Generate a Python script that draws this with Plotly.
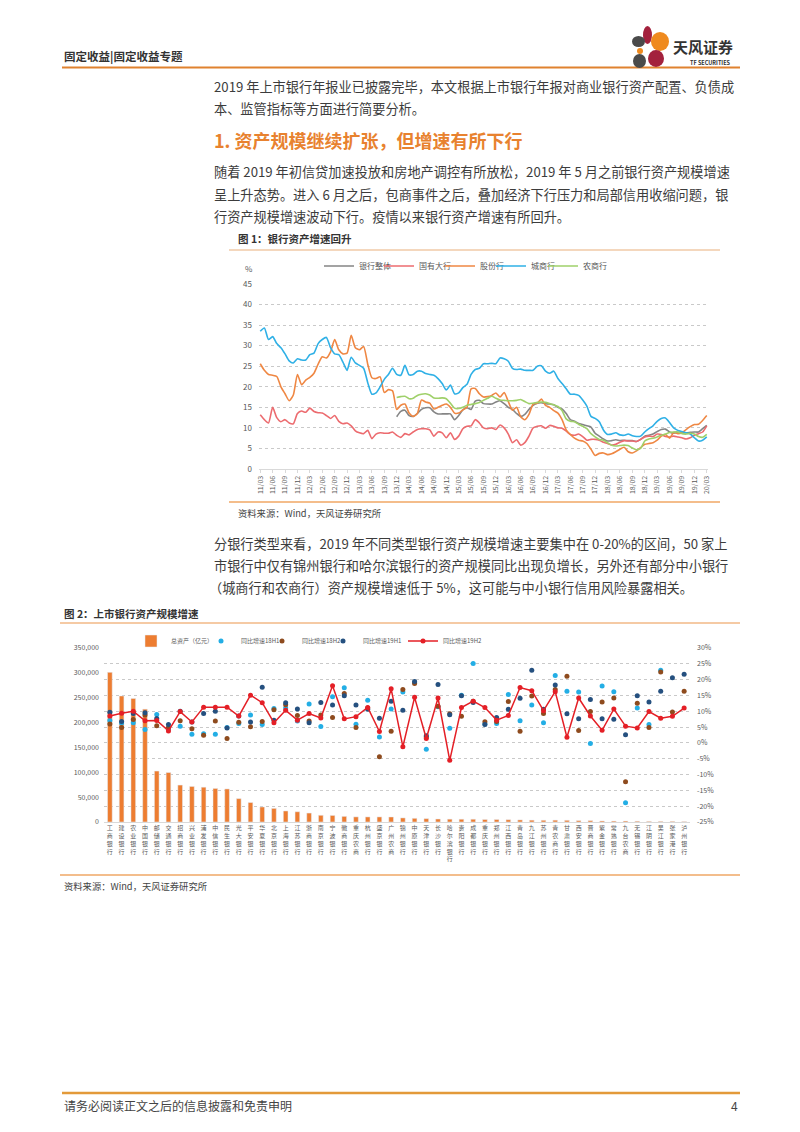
import plotly.graph_objects as go

W, H = 800, 1132
def X(p): return p / W
def Y(p): return 1 - p / H

FONT = "Noto Sans CJK SC"
TXT = "#3c3c3c"
TICK = "#595959"

# ---------------- Chart 1 data (%, monthly 2011/03 - 2020/03) ----------------
months = [f"{y:02d}/{m:02d}" for y in range(11, 21) for m in range(1, 13)]
months = months[months.index("11/03"): months.index("20/03") + 1]
month_ticks = months[::3]

pad33 = [None] * 33
bank_total = pad33 + [
    12.7, 14.0, 14.3, 13.0, 12.8, 13.5, 14.5, 14.9, 14.9, 13.9,
    13.4, 13.4, 13.4, 13.4, 12.0, 13.0, 14.4, 14.9, 14.5, 16.5,
    16.7, 15.9, 15.8, 15.8, 16.3, 16.6, 15.9, 15.0, 14.5, 13.5,
    12.8, 13.3, 14.5, 15.5, 16.0, 16.1, 15.9, 15.8, 15.6, 15.0,
    14.6, 13.5, 12.0, 11.6, 11.1, 10.8, 10.5, 10.2, 8.7, 8.0,
    7.3, 6.8, 6.9, 7.1, 6.9, 7.0, 6.9, 6.9, 6.7, 7.2,
    8.0, 8.2, 8.5, 9.1, 9.6, 9.7, 9.0, 8.7, 8.9, 8.9,
    8.8, 8.9, 9.0, 9.0, 9.8, 10.6]
state_big = [
    13.2, 12.0, 11.2, 15.0, 12.5, 11.5, 12.0, 11.2, 11.0, 13.5,
    14.1, 13.8, 14.8, 14.0, 13.7, 13.6, 13.0, 12.3, 13.0, 11.6,
    11.0, 11.2, 10.5, 9.3, 8.8, 8.6, 9.4, 7.4, 8.5, 8.8,
    8.7, 8.7, 9.0, 8.2, 7.7, 8.6, 8.3, 9.0, 9.6, 9.8,
    9.8, 9.5, 8.0, 9.0, 8.8, 7.6, 8.8, 7.2, 8.0, 9.8,
    10.4, 10.5, 12.0, 11.2, 10.0, 9.8, 10.0, 9.6, 10.7, 10.0,
    8.5, 6.4, 7.1, 5.8, 6.4, 8.0, 10.0, 10.4, 10.5, 9.9,
    10.6, 10.4, 10.0, 9.9, 9.2, 8.4, 8.2, 8.5, 7.9, 7.0,
    7.2, 7.2, 7.0, 6.5, 6.2, 5.8, 6.0, 6.5, 6.9, 6.8,
    6.8, 6.7, 7.2, 7.8, 8.0, 7.9, 8.5, 8.4, 7.9, 7.8,
    8.0, 7.8, 7.6, 7.3, 7.6, 8.2, 8.6, 9.0, 10.5]
joint_stock = [
    25.6, 24.0, 23.0, 22.8, 22.5, 20.0, 18.3, 16.6, 18.0, 23.0,
    20.5, 21.6, 22.3, 23.3, 25.5, 27.3, 27.0, 28.5, 31.5, 29.0,
    28.0, 28.2, 32.5, 29.5, 29.0, 29.8, 25.5, 22.2, 22.0, 22.4,
    18.6, 19.3, 19.0, 14.5, 15.5, 15.8, 13.6, 12.8, 13.5, 16.8,
    16.3, 16.0, 14.6, 15.0, 15.5, 15.8, 15.0, 13.6, 13.6, 14.4,
    15.0, 19.5, 19.6, 18.3, 17.5, 17.6, 17.9, 18.5, 17.5, 18.6,
    16.4, 14.3, 15.0, 12.7, 12.0, 13.3, 15.8, 16.0, 17.0, 15.5,
    15.0, 14.2, 13.6, 12.0, 9.5, 8.4, 7.5, 7.0, 6.8, 6.2,
    4.8, 3.3, 3.8, 3.9, 3.5, 3.7, 4.2, 4.8, 5.3, 4.2,
    3.9, 4.4, 5.2, 6.0, 6.2, 6.4, 7.0, 8.0, 8.4, 7.5,
    8.9, 8.6, 8.8, 9.6, 10.3, 10.8, 10.9, 11.8, 13.0]
city = [
    33.5, 34.3, 31.5, 32.2, 30.5, 29.5, 28.0, 26.3, 25.8, 26.8,
    26.5, 26.5, 27.8, 28.2, 30.5, 31.5, 32.0, 29.5, 28.0, 27.8,
    26.0, 24.0, 27.2, 25.8, 25.2, 24.5, 21.0, 18.2, 18.5, 20.0,
    21.8, 23.0, 24.5, 23.0, 22.8, 25.2, 22.9, 23.0, 23.8, 23.8,
    23.2, 23.0, 22.8, 22.0, 20.8, 19.2, 20.4, 18.3, 18.5, 19.8,
    20.6, 23.0, 24.2, 24.5, 25.6, 25.6, 25.7, 25.6, 27.0, 26.8,
    26.2, 24.5, 24.2, 24.3, 24.0, 24.0, 24.0, 25.0, 25.1, 23.8,
    23.3, 23.8, 22.0, 20.8, 19.5, 18.2, 18.2, 17.9, 16.8, 15.3,
    12.8, 12.3, 11.5, 9.5, 8.4, 8.5, 8.8, 8.3, 8.2, 8.5,
    8.1, 7.9, 8.0, 9.0, 9.8, 10.5, 11.6, 12.3, 12.4, 11.3,
    10.0, 9.4, 9.1, 8.8, 8.5, 7.6, 6.8, 7.0, 7.8]
rural = pad33 + [
    17.4, 17.6, 17.7, 17.1, 17.2, 17.9, 18.2, 18.3, 18.0, 17.3,
    17.2, 17.3, 17.1, 16.0, 14.8, 14.7, 15.0, 15.5, 15.7, 15.9,
    16.2, 16.7, 17.2, 17.7, 17.2, 16.8, 16.7, 16.6, 16.6, 16.7,
    16.9, 16.4, 15.9, 16.0, 16.2, 16.3, 16.2, 15.9, 15.6, 15.2,
    14.2, 12.2, 11.6, 11.5, 10.9, 10.4, 9.8, 8.6, 7.8, 7.2,
    7.0, 6.4, 5.8, 5.6, 5.7, 5.8, 5.7, 5.1, 4.7, 5.0,
    6.8, 7.3, 7.5, 7.8, 8.2, 8.5, 8.9, 9.0, 9.0, 8.6,
    8.5, 8.7, 8.5, 7.9, 7.7, 8.4]

# ---------------- Chart 2 data ----------------
banks = ["工商银行", "建设银行", "农业银行", "中国银行", "邮储银行", "交通银行", "招商银行",
         "兴业银行", "浦发银行", "中信银行", "民生银行", "光大银行", "平安银行", "华夏银行",
         "北京银行", "上海银行", "江苏银行", "浙商银行", "南京银行", "宁波银行", "徽商银行",
         "重庆农商", "杭州银行", "盛京银行", "广州农商", "锦州银行", "中原银行", "天津银行",
         "长沙银行", "哈尔滨银行", "贵阳银行", "成都银行", "重庆银行", "郑州银行", "江西银行",
         "青岛银行", "九江银行", "苏州银行", "青农商行", "甘肃银行", "西安银行", "晋商银行",
         "紫金银行", "常熟银行", "九台农商", "无锡银行", "江阴银行", "吴江银行", "张家港行",
         "泸州银行"]
assets = [301000, 253500, 248500, 227000, 102500, 99500, 74300, 71500, 70000, 67500,
          66500, 47000, 39200, 30200, 27400, 22200, 20600, 18000, 13500, 13200,
          11300, 10300, 10200, 10200, 10100, 8200, 7400, 6700, 6000, 5700,
          5600, 5600, 5000, 5000, 4600, 4200, 3700, 3500, 3700, 3400,
          2800, 2800, 2100, 1900, 2000, 1600, 1300, 1300, 1300, 900]
g18h1 = [7.1, 6.3, 6.4, 4.2, 9.0, 4.3, 5.3, 2.7, 2.9, 2.7,
         4.9, 6.1, 8.8, 5.8, 10.9, 11.0, 6.9, 12.3, 5.2, 14.6,
         17.4, 5.9, 13.5, 1.9, 10.7, 16.1, 19.1, -2.0, 11.4, 4.6,
         15.1, 25.1, 6.0, 6.1, 15.3, 7.0, 12.0, 6.4, 21.3, 16.3,
         16.1, -0.2, 18.0, 16.2, -18.9, 11.0, 5.8, 23.0, None, None]
g18h2 = [6.0, 4.9, 7.4, 8.8, 5.4, 4.9, 7.0, 4.5, 2.4, 6.9,
         1.4, 6.5, 5.1, 6.8, 10.5, 12.1, 8.7, 6.9, 8.8, 8.0,
         15.6, 4.9, 11.0, -4.4, 3.7, 16.9, 18.8, 1.9, 11.6, 9.2,
         8.4, 13.2, 6.7, 6.8, 13.1, 3.7, 14.8, 9.3, 16.9, 21.1,
         3.9, 9.9, 12.9, 14.2, -12.3, 12.5, 4.9, 22.4, 9.8, 16.3]
g19h1 = [9.7, 6.8, 9.3, 9.5, 7.7, 5.8, 10.0, 6.6, 9.3, 10.0,
         4.7, 8.5, 6.6, 17.6, 7.2, 12.7, 10.7, 6.4, 12.8, 12.0,
         14.9, 12.0, 10.6, 7.8, 13.2, 10.3, 19.4, 2.3, 18.5, 8.9,
         14.9, 12.8, 5.8, 8.0, 10.6, 14.1, 23.0, 10.6, 18.3, 9.2,
         7.6, 13.7, 7.6, 7.5, 2.6, 14.9, 12.9, 16.3, 20.6, 21.7]
g19h2 = [8.5, 9.4, 10.0, 7.0, 7.1, 3.8, 9.9, 6.6, 11.3, 11.3,
         11.3, 8.5, 15.1, 12.7, 6.4, 10.3, 7.2, 9.3, 7.9, 18.1,
         7.6, 8.3, 11.2, 3.6, 17.1, -1.2, 14.4, 1.4, 14.2, -5.5,
         11.2, 13.2, 11.2, 7.2, 8.7, 17.5, 16.5, 10.2, 16.2, 1.8,
         14.2, 8.5, 4.0, 10.7, 5.3, 4.7, 9.9, 7.8, 8.4, 11.0]
left_ticks = [0, 50000, 100000, 150000, 200000, 250000, 300000, 350000]
right_ticks = [-25, -20, -15, -10, -5, 0, 5, 10, 15, 20, 25, 30]
right_text = [f"{v}%" for v in right_ticks]
bank_ticktext = ["<br>".join(list(b)) for b in banks]

fig = go.Figure()

# ---------------- Chart 1 traces ----------------
c1 = [("银行整体", bank_total, "#858585", 364),
      ("国有大行", state_big, "#ec6b6f", 424),
      ("股份行", joint_stock, "#ef8743", 485),
      ("城商行", city, "#2fb0e6", 536),
      ("农商行", rural, "#9fd06a", 588)]
LOFF = 45
legend_cfg = {}
for k, (name, vals, col, tx) in enumerate(c1):
    lg = "legend" if k == 0 else f"legend{k + 1}"
    fig.add_trace(go.Scatter(x=months, y=vals, name=name, mode="lines",
                             line=dict(color=col, width=1.6, shape="spline", smoothing=0.6),
                             xaxis="x", yaxis="y", legend=lg, connectgaps=False))
    legend_cfg[lg] = dict(x=X(tx - LOFF), y=Y(266), xanchor="left", yanchor="middle",
                          orientation="h", bgcolor="rgba(0,0,0,0)",
                          font=dict(size=8, color=TICK, family=FONT))

# ---------------- Chart 2 traces ----------------
fig.add_trace(go.Bar(x=banks, y=assets, name="总资产（亿元）", marker_color="#ed7d31",
                     xaxis="x2", yaxis="y2", legend="legend6"))
c2 = [("同比增速18H1", g18h1, "#23aee5", 246, "markers"),
      ("同比增速18H2", g18h2, "#8e4b1e", 307, "markers"),
      ("同比增速19H1", g19h1, "#25507f", 368, "markers"),
      ("同比增速19H2", g19h2, "#e41f26", 448, "lines+markers")]
legend_cfg["legend6"] = dict(x=X(176 - LOFF), y=Y(641), xanchor="left", yanchor="middle",
                             orientation="h", bgcolor="rgba(0,0,0,0)",
                             font=dict(size=6, color=TICK, family=FONT))
for k, (name, vals, col, tx, mode) in enumerate(c2):
    lg = f"legend{k + 7}"
    fig.add_trace(go.Scatter(x=banks, y=vals, name=name, mode=mode,
                             marker=dict(color=col, size=5),
                             line=dict(color=col, width=1.5),
                             xaxis="x2", yaxis="y3", legend=lg))
    legend_cfg[lg] = dict(x=X(tx - LOFF), y=Y(641), xanchor="left", yanchor="middle",
                          orientation="h", bgcolor="rgba(0,0,0,0)",
                          font=dict(size=6, color=TICK, family=FONT))

# ---------------- Annotations (page text) ----------------
ann = []
def txt(x, y, s, size, color=TXT, anchor="left"):
    ann.append(dict(x=X(x), y=Y(y), xref="paper", yref="paper", text=s, showarrow=False,
                    xanchor=anchor, yanchor="middle",
                    font=dict(size=size, color=color, family=FONT)))

txt(62, 56, "<b>固定收益|固定收益专题</b>", 11.5, "#333333")
txt(671, 47, "<b>天风证券</b>", 15, "#333333")
txt(688, 63, "<b>TF SECURITIES</b>", 5.5, "#333333")
txt(212, 87, "2019 年上市银行年报业已披露完毕，本文根据上市银行年报对商业银行资产配置、负债成", 13.2)
txt(212, 108, "本、监管指标等方面进行简要分析。", 13.2)
txt(212, 140, "<b>1. 资产规模继续扩张，但增速有所下行</b>", 18, "#e8822f")
txt(212, 172, "随着 2019 年初信贷加速投放和房地产调控有所放松，2019 年 5 月之前银行资产规模增速", 13.2)
txt(212, 194, "呈上升态势。进入 6 月之后，包商事件之后，叠加经济下行压力和局部信用收缩问题，银", 13.2)
txt(212, 216, "行资产规模增速波动下行。疫情以来银行资产增速有所回升。", 13.2)
txt(236, 239, "<b>图 1：银行资产增速回升</b>", 10.5, "#333333")
txt(243, 268, "%", 8, TICK)
txt(236, 513, "资料来源：Wind，天风证券研究所", 9.3, "#444444")
txt(212, 543, "分银行类型来看，2019 年不同类型银行资产规模增速主要集中在 0-20%的区间，50 家上", 13.2)
txt(212, 565, "市银行中仅有锦州银行和哈尔滨银行的资产规模同比出现负增长，另外还有部分中小银行", 13.2)
txt(207, 587, "（城商行和农商行）资产规模增速低于 5%，这可能与中小银行信用风险暴露相关。", 13.2)
txt(62, 613, "<b>图 2：上市银行资产规模增速</b>", 10.5, "#333333")
txt(62, 886, "资料来源：Wind，天风证券研究所", 9.3, "#444444")
txt(62, 1105, "请务必阅读正文之后的信息披露和免责申明", 12, "#444444")
txt(740, 1105, "4", 12, "#444444", anchor="right")

# ---------------- Shapes (rules and logo) ----------------
shapes = []
def hline(x0, x1, y, color, w):
    shapes.append(dict(type="line", xref="paper", yref="paper", x0=X(x0), x1=X(x1),
                       y0=Y(y), y1=Y(y), line=dict(color=color, width=w)))
def ell(x0, x1, y0, y1, color):
    shapes.append(dict(type="circle", xref="paper", yref="paper", x0=X(x0), x1=X(x1),
                       y0=Y(y1), y1=Y(y0), fillcolor=color, line=dict(width=0)))

hline(62, 740, 67.5, "#e0822f", 2)
hline(229, 720, 250, "#e9b07c", 1.2)
hline(229, 720, 502, "#f0a764", 1.5)
hline(60, 740, 623, "#f2b886", 1.5)
hline(60, 740, 875, "#f3bd8c", 2)
hline(62, 740, 1093, "#e39a3a", 2.5)
ell(643, 652, 26, 44, "#a3213d")
ell(651, 669, 32, 51, "#ef8a1e")
ell(632, 645, 36, 47, "#4a4a4a")
ell(637, 643, 48, 54, "#ef8a1e")
ell(633, 646, 54, 68, "#4a4a4a")
ell(648, 664, 50, 67, "#a3213d")

grid = dict(showgrid=True, gridcolor="#c9c9c9", griddash="dot", gridwidth=1)

fig.update_layout(
    width=W, height=H, margin=dict(l=0, r=0, t=0, b=0, pad=0),
    paper_bgcolor="white", plot_bgcolor="white", showlegend=True,
    font=dict(family=FONT, color=TICK),
    annotations=ann, shapes=shapes, bargap=0.6,
    xaxis=dict(domain=[X(259), X(708)], anchor="y", type="category",
               range=[-0.3, 108.3], tickmode="array", tickvals=month_ticks,
               ticktext=month_ticks, tickangle=-90, tickfont=dict(size=7, color=TICK),
               showline=True, linecolor="#d9d9d9", ticks="outside", ticklen=3,
               tickcolor="#d9d9d9", showgrid=False, zeroline=False, automargin=False),
    yaxis=dict(domain=[Y(469), Y(284)], anchor="x", range=[0, 45], dtick=5,
               tickfont=dict(size=8, color=TICK), zeroline=False, ticks="",
               ticklabelstandoff=6, automargin=False, **grid),
    xaxis2=dict(domain=[X(104), X(690)], anchor="y2", type="category",
                range=[-0.5, 49.5], autorange=False,
                tickmode="array", tickvals=banks, ticktext=bank_ticktext,
                tickangle=0, tickfont=dict(size=6, color=TICK), automargin=False,
                showline=True, linecolor="#d9d9d9", showgrid=False, ticks=""),
    yaxis2=dict(domain=[Y(822), Y(648)], anchor="x2", range=[0, 350000],
                tickvals=left_ticks, tickformat=",", tickfont=dict(size=7, color=TICK),
                showgrid=False, zeroline=False, ticklabelstandoff=4, automargin=False),
    yaxis3=dict(overlaying="y2", side="right", anchor="x2", range=[-25, 30],
                tickmode="array", tickvals=right_ticks, ticktext=right_text,
                tickfont=dict(size=7, color=TICK), zeroline=False, automargin=False,
                ticklabelstandoff=6, **grid),
    **legend_cfg,
)

fig.write_html("out.html", config={"displayModeBar": False},
               post_script="document.body.style.margin='0';document.body.style.overflow='hidden';")
